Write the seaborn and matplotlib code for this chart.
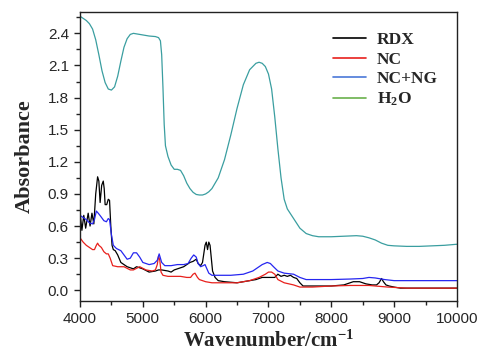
import numpy as np
import pandas as pd
import matplotlib
matplotlib.use("Agg")
import matplotlib.pyplot as plt
import seaborn as sns
from matplotlib.lines import Line2D
from matplotlib.ticker import MultipleLocator, FixedLocator, FormatStrFormatter

# Near-infrared absorbance spectra (wavenumber in cm^-1)
rdx_x = [4000, 4030, 4060, 4090, 4130, 4160, 4190, 4220, 4250, 4280, 4300, 4320, 4345, 4370, 4385,
         4400, 4425, 4450, 4470, 4490, 4510, 4530, 4560, 4600, 4650, 4700, 4750, 4800, 4850, 4900,
         5000, 5100, 5200, 5250, 5300, 5400, 5450, 5500, 5600, 5650, 5700, 5750, 5800, 5850, 5880,
         5920, 5950, 5990, 6010, 6030, 6050, 6070, 6090, 6110, 6150, 6200, 6300, 6500, 6700, 6800,
         6900, 7000, 7100, 7150, 7200, 7250, 7300, 7350, 7400, 7450, 7500, 7550, 7700, 8000, 8200,
         8350, 8450, 8550, 8650, 8720, 8760, 8800, 8830, 8870, 8920, 9000, 9100, 9300, 9600, 10000]
rdx_y = [0.73, 0.56, 0.70, 0.58, 0.72, 0.60, 0.72, 0.62, 0.90, 1.06, 1.02, 0.82, 0.98, 1.02, 0.95,
         0.80, 0.80, 0.85, 0.84, 0.60, 0.42, 0.38, 0.37, 0.33, 0.26, 0.24, 0.22, 0.21, 0.20, 0.22,
         0.20, 0.17, 0.18, 0.19, 0.19, 0.18, 0.17, 0.19, 0.21, 0.22, 0.24, 0.26, 0.27, 0.29, 0.25,
         0.23, 0.26, 0.42, 0.45, 0.38, 0.45, 0.42, 0.30, 0.18, 0.12, 0.09, 0.08, 0.07, 0.09, 0.10,
         0.12, 0.12, 0.12, 0.15, 0.13, 0.14, 0.13, 0.14, 0.12, 0.11, 0.07, 0.04, 0.04, 0.04, 0.05,
         0.08, 0.08, 0.06, 0.05, 0.05, 0.07, 0.11, 0.08, 0.05, 0.04, 0.03, 0.02, 0.02, 0.02, 0.02]

nc_x = [4000, 4050, 4100, 4150, 4200, 4230, 4260, 4280, 4300, 4340, 4380, 4420, 4450, 4480, 4520,
        4600, 4700, 4800, 4850, 4950, 5050, 5150, 5200, 5230, 5250, 5270, 5290, 5320, 5400, 5500,
        5600, 5700, 5760, 5800, 5830, 5870, 5900, 5950, 6000, 6100, 6300, 6500, 6700, 6850, 6950,
        7000, 7050, 7100, 7150, 7250, 7400, 7500, 7700, 8000, 8300, 8600, 8900, 9200, 9600, 10000]
nc_y = [0.49, 0.45, 0.42, 0.40, 0.38, 0.38, 0.42, 0.44, 0.42, 0.40, 0.36, 0.34, 0.34, 0.30, 0.23,
        0.22, 0.22, 0.19, 0.19, 0.22, 0.19, 0.18, 0.19, 0.24, 0.32, 0.28, 0.17, 0.14, 0.13, 0.13,
        0.13, 0.12, 0.12, 0.15, 0.16, 0.12, 0.10, 0.09, 0.08, 0.07, 0.07, 0.07, 0.09, 0.12, 0.15,
        0.17, 0.17, 0.15, 0.10, 0.07, 0.05, 0.03, 0.03, 0.04, 0.045, 0.045, 0.03, 0.02, 0.02, 0.02]

ncng_x = [4000, 4050, 4100, 4150, 4200, 4230, 4260, 4290, 4330, 4380, 4420, 4450, 4470, 4500, 4530,
          4580, 4650, 4700, 4750, 4800, 4850, 4900, 4950, 5000, 5100, 5180, 5230, 5260, 5300, 5350,
          5450, 5550, 5650, 5720, 5770, 5810, 5850, 5880, 5920, 5960, 5990, 6020, 6050, 6100, 6200,
          6400, 6600, 6750, 6900, 6980, 7030, 7080, 7150, 7250, 7400, 7500, 7600, 7800, 8000, 8300,
          8500, 8600, 8700, 8850, 9000, 9500, 10000]
ncng_y = [0.70, 0.68, 0.66, 0.63, 0.62, 0.66, 0.74, 0.72, 0.69, 0.65, 0.64, 0.67, 0.66, 0.52, 0.42,
          0.39, 0.37, 0.33, 0.29, 0.30, 0.35, 0.35, 0.31, 0.26, 0.24, 0.25, 0.28, 0.34, 0.26, 0.23,
          0.23, 0.24, 0.24, 0.25, 0.30, 0.33, 0.31, 0.25, 0.22, 0.23, 0.24, 0.20, 0.16, 0.14, 0.14,
          0.14, 0.15, 0.18, 0.24, 0.26, 0.25, 0.22, 0.18, 0.16, 0.15, 0.12, 0.10, 0.10, 0.10, 0.105,
          0.11, 0.12, 0.115, 0.10, 0.09, 0.09, 0.09]

h2o_x = [4000, 4050, 4100, 4150, 4200, 4250, 4300, 4350, 4400, 4450, 4500, 4550, 4600, 4650, 4700,
         4750, 4800, 4850, 4900, 5000, 5100, 5200, 5250, 5280, 5300, 5320, 5340, 5360, 5400, 5450,
         5500, 5550, 5600, 5650, 5700, 5750, 5800, 5850, 5900, 5950, 6000, 6050, 6100, 6200, 6300,
         6400, 6500, 6600, 6700, 6800, 6850, 6900, 6950, 7000, 7050, 7100, 7150, 7200, 7250, 7300,
         7400, 7500, 7600, 7700, 7800, 8000, 8200, 8400, 8500, 8600, 8700, 8800, 8900, 9000, 9200,
         9400, 9600, 9800, 10000]
h2o_y = [2.56, 2.54, 2.52, 2.49, 2.44, 2.34, 2.20, 2.05, 1.94, 1.88, 1.87, 1.90, 2.00, 2.14, 2.27,
         2.35, 2.39, 2.40, 2.395, 2.385, 2.375, 2.37, 2.36, 2.33, 2.20, 1.90, 1.55, 1.35, 1.25, 1.17,
         1.13, 1.13, 1.12, 1.07, 1.00, 0.95, 0.915, 0.895, 0.89, 0.89, 0.90, 0.92, 0.95, 1.05, 1.22,
         1.45, 1.70, 1.92, 2.06, 2.12, 2.13, 2.12, 2.09, 2.02, 1.88, 1.62, 1.32, 1.05, 0.85, 0.76,
         0.67, 0.58, 0.53, 0.51, 0.50, 0.50, 0.505, 0.51, 0.505, 0.49, 0.47, 0.44, 0.42, 0.415, 0.41,
         0.41, 0.415, 0.42, 0.43]

series = ["RDX", "NC", "NC+NG", "H$_\\mathregular{2}$O"]
line_colors = ["#000000", "#e8201c", "#2626f0", "#3a9ea0"]
legend_colors = ["#000000", "#e8201c", "#4a78d8", "#6ab04c"]
y_ticks = [0.0, 0.3, 0.6, 0.9, 1.2, 1.5, 1.8, 2.1, 2.4]

frames = []
for name, xs, ys in zip(series, [rdx_x, nc_x, ncng_x, h2o_x], [rdx_y, nc_y, ncng_y, h2o_y]):
    frames.append(pd.DataFrame({"wavenumber": xs, "absorbance": ys, "sample": name}))
df = pd.concat(frames, ignore_index=True)

sns.set_style("ticks")
plt.rcParams.update({
    "mathtext.fontset": "custom",
    "mathtext.rm": "Liberation Serif:bold",
    "mathtext.bf": "Liberation Serif:bold",
    "mathtext.it": "Liberation Serif:bold",
})

fig = plt.figure(figsize=(4.82, 3.51), dpi=100)
ax = fig.add_axes([0.166, 0.1425, 0.782, 0.8235])

for name, col in zip(series, line_colors):
    sub = df[df["sample"] == name]
    sns.lineplot(data=sub, x="wavenumber", y="absorbance", color=col, lw=0.9,
                 ax=ax, sort=False, estimator=None, legend=False)

ax.set_xlim(4000, 10000)
ax.set_ylim(-0.1, 2.6)
ax.set_xlabel("Wavenumber/cm$^{-1}$", fontfamily="Liberation Serif",
              fontweight="bold", fontsize=15, labelpad=3)
ax.set_ylabel("Absorbance", fontfamily="Liberation Serif", fontweight="bold",
              fontsize=16, labelpad=9)

ax.xaxis.set_major_locator(MultipleLocator(1000))
ax.xaxis.set_minor_locator(MultipleLocator(500))
ax.yaxis.set_major_locator(FixedLocator(y_ticks))
ax.yaxis.set_minor_locator(MultipleLocator(0.15))
ax.yaxis.set_major_formatter(FormatStrFormatter("%.1f"))

ax.tick_params(which="major", direction="out", length=4, width=1.0, pad=4,
               top=False, right=False, labelsize=11, color="#222222")
ax.tick_params(which="minor", direction="out", length=3, width=1.0,
               top=False, right=False, bottom=True, left=True, color="#222222")
for lab in ax.get_xticklabels() + ax.get_yticklabels():
    lab.set_fontfamily("Liberation Sans")
for s in ax.spines.values():
    s.set_linewidth(1.0)
    s.set_color("#222222")

handles = [Line2D([0], [0], color=c, lw=1.2) for c in legend_colors]
ax.legend(handles, series, loc="upper right", bbox_to_anchor=(0.99, 0.985),
          frameon=False, handlelength=1.9, handletextpad=0.6, labelspacing=0.2,
          prop=dict(family="Liberation Serif", weight="bold", size=12.5))

fig.savefig("out.png", dpi=100)
